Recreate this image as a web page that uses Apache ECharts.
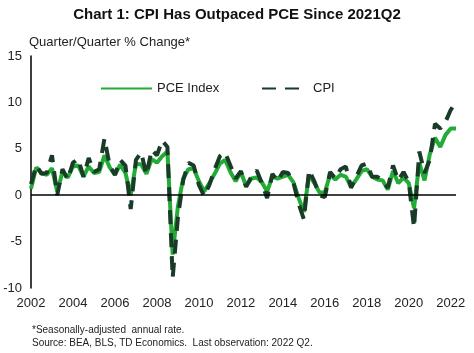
<!DOCTYPE html>
<html>
<head>
<meta charset="utf-8">
<title>CPI vs PCE</title>
<script src="https://cdn.jsdelivr.net/npm/echarts@6/dist/echarts.min.js"></script>
<style>
  html, body { margin: 0; padding: 0; background: #ffffff; }
  #chart { width: 474px; height: 353px; }
</style>
</head>
<body>
<div id="chart"></div>
<script>
  // quarters 2002Q1 .. 2022Q2
  var quarters = []
  for (var y = 2002; y <= 2022; y++) {
    for (var q = 1; q <= 4; q++) {
      if (y === 2022 && q > 2) break
      quarters.push(y + 'Q' + q)
    }
  }

  // q/q % change, annualized
  var pceValues = [
    0.7, 3.0, 2.4, 2.2,
    2.9, 0.4, 2.5, 1.9,
    3.1, 3.2, 2.0, 3.1,
    2.4, 2.5, 4.3, 3.0,
    2.2, 3.3, 2.4, 0.0,
    3.4, 3.3, 2.3, 3.9,
    3.5, 4.2, 4.7, -6.4,
    -1.2, 1.8, 2.8, 2.9,
    1.5, 0.4, 1.3, 2.3,
    3.4, 3.8, 2.5, 1.5,
    2.5, 1.0, 1.8, 1.9,
    1.4, 0.4, 2.0, 1.8,
    2.0, 2.2, 1.4, -0.3,
    -1.8, 2.2, 1.3, 0.3,
    0.3, 2.2, 1.7, 2.2,
    2.0, 0.9, 1.7, 2.6,
    2.8, 2.0, 1.7, 1.6,
    0.6, 2.6, 1.3, 1.9,
    1.3, -1.4, 3.5, 1.6,
    4.4, 6.2, 5.2, 6.5,
    7.2, 7.2
  ]
  var cpiValues = [
    1.2, 3.2, 2.3, 2.4,
    4.3, 0.0, 2.8, 1.7,
    3.5, 3.9, 2.0, 4.0,
    2.5, 2.8, 6.1, 3.2,
    2.2, 3.8, 3.2, -1.5,
    3.8, 4.6, 2.2, 4.9,
    4.3, 5.9, 5.2, -8.9,
    -2.4, 1.6, 3.5, 3.2,
    1.1, -0.1, 1.1, 2.8,
    4.2, 4.6, 3.2, 1.8,
    2.6, 0.9, 2.0, 2.7,
    1.3, -0.3, 2.3, 1.5,
    2.5, 2.4, 1.4, -0.9,
    -2.6, 2.7, 1.5, 0.0,
    -0.2, 2.5, 1.8, 2.8,
    3.1, 0.8, 2.0, 3.2,
    3.4, 2.0, 2.0, 1.5,
    0.8, 3.2, 1.6, 2.5,
    1.4, -3.5, 4.7, 2.4,
    3.8, 7.7, 7.2, 7.9,
    9.2, 10.0
  ]
  var yTicks = { min: -10, max: 15, step: 5 }

  var textColor = '#222222'
  var font = 'Liberation Sans, Arial, sans-serif'
  var pceColor = '#22ab35'
  var cpiColor = '#1b3b29'

  var chart = echarts.init(document.getElementById('chart'))
  var options = {
    animation: false,
    textStyle: { fontFamily: font },
    title: {
      text: 'Chart 1: CPI Has Outpaced PCE Since 2021Q2',
      left: 'center',
      top: 2,
      textStyle: { fontSize: 15, fontWeight: 'bold', color: '#111111', fontFamily: font }
    },
    graphic: [
      {
        type: 'text',
        left: 29,
        top: 36,
        style: { text: 'Quarter/Quarter % Change*', fontSize: 13, fill: textColor, fontFamily: font }
      },
      {
        type: 'text',
        left: 32,
        top: 325,
        style: { text: '*Seasonally-adjusted  annual rate.', fontSize: 10, fill: textColor, fontFamily: font }
      },
      {
        type: 'text',
        left: 32,
        top: 338,
        style: { text: 'Source: BEA, BLS, TD Economics.  Last observation: 2022 Q2.', fontSize: 10, fill: textColor, fontFamily: font }
      }
    ],
    legend: [
      {
        data: ['PCE Index'],
        left: 100,
        top: 82,
        padding: 0,
        itemWidth: 51,
        itemHeight: 14,
        itemStyle: { opacity: 0 },
        textStyle: { fontSize: 13, color: textColor, fontFamily: font }
      },
      {
        data: ['CPI'],
        left: 261,
        top: 82,
        padding: 0,
        itemWidth: 41,
        itemHeight: 14,
        itemStyle: { opacity: 0 },
        textStyle: { fontSize: 13, color: textColor, fontFamily: font, padding: [0, 0, 0, 5] }
      }
    ],
    grid: {
      left: 31,
      right: 18,
      top: 56,
      bottom: 65,
      containLabel: false
    },
    xAxis: {
      type: 'category',
      boundaryGap: false,
      data: quarters,
      axisLine: { show: false },
      axisTick: { show: false },
      splitLine: { show: false },
      axisLabel: {
        interval: 7,
        margin: 9,
        fontSize: 13,
        color: textColor,
        fontFamily: font,
        formatter: function(v) {
          return v.slice(0, 4)
        }
      }
    },
    yAxis: {
      type: 'value',
      min: yTicks.min,
      max: yTicks.max,
      interval: yTicks.step,
      axisLine: { show: true, lineStyle: { color: '#000000', width: 1.5 } },
      axisTick: { show: false },
      splitLine: { show: false },
      axisLabel: { margin: 9, fontSize: 13, color: textColor, fontFamily: font }
    },
    series: [
      {
        name: 'PCE Index',
        type: 'line',
        data: pceValues,
        symbol: 'none',
        lineStyle: { color: pceColor, width: 4 },
        itemStyle: { color: pceColor },
        markLine: {
          silent: true,
          symbol: 'none',
          label: { show: false },
          lineStyle: { color: '#000000', width: 1.5, type: 'solid' },
          data: [{ yAxis: 0 }]
        },
        z: 2
      },
      {
        name: 'CPI',
        type: 'line',
        data: cpiValues,
        symbol: 'none',
        lineStyle: { color: cpiColor, width: 4, type: [14, 9] },
        itemStyle: { color: cpiColor },
        z: 3
      }
    ]
  }
  chart.setOption(options)
</script>
</body>
</html>
